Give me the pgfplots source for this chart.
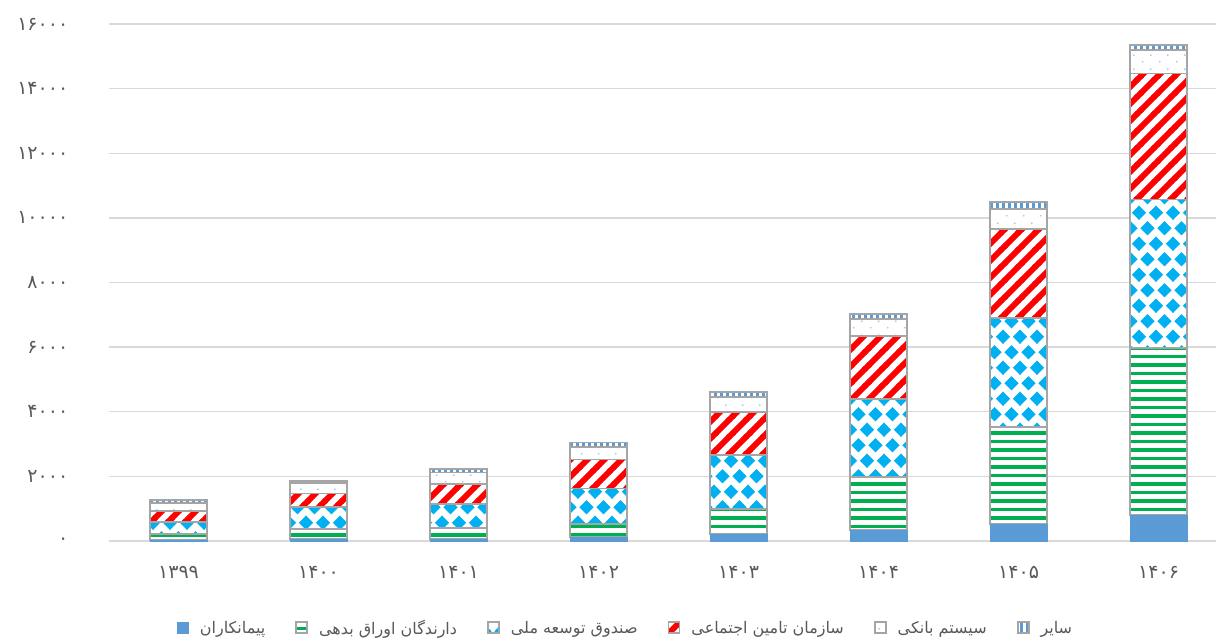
\documentclass[border=0pt]{standalone}
\usepackage{pgfplots}
\pgfplotsset{compat=1.18}
\usepackage{pgfplotstable}
\usepackage{fontspec}
\usetikzlibrary{patterns}
\TeXXeTstate=1
\setmainfont{DejaVu Sans}
\newfontfamily\arabicfont[Script=Arabic]{DejaVu Sans}

\definecolor{cBlue}{HTML}{5B9BD5}
\definecolor{cGreen}{HTML}{00B050}
\definecolor{cCyan}{HTML}{00B0F0}
\definecolor{cRed}{HTML}{FF0000}
\definecolor{cDot}{HTML}{9DC3E6}
\definecolor{cBorder}{HTML}{A5A5A5}
\definecolor{cGrid}{HTML}{D9D9D9}
\definecolor{cText}{HTML}{595959}

% tiles overlap slightly (bbox larger than step) to avoid seams
\pgfdeclarepatternformonly{hstripes}{\pgfpoint{0pt}{0pt}}{\pgfpoint{256pt}{8.5pt}}{\pgfpoint{255pt}{8.5pt}}{%
  \pgfpathrectangle{\pgfpoint{0pt}{0pt}}{\pgfpoint{256pt}{3.8pt}}\pgfusepath{fill}}

\pgfdeclarepatternformonly{diamonds}{\pgfpoint{-0.5pt}{-0.5pt}}{\pgfpoint{17.5pt}{31.5pt}}{\pgfpoint{17pt}{31pt}}{%
  \pgfpathmoveto{\pgfpoint{8.5pt}{0.55pt}}\pgfpathlineto{\pgfpoint{15.7pt}{7.75pt}}\pgfpathlineto{\pgfpoint{8.5pt}{14.95pt}}\pgfpathlineto{\pgfpoint{1.3pt}{7.75pt}}\pgfpathclose
  \pgfpathmoveto{\pgfpoint{0pt}{16.05pt}}\pgfpathlineto{\pgfpoint{7.2pt}{23.25pt}}\pgfpathlineto{\pgfpoint{0pt}{30.45pt}}\pgfpathlineto{\pgfpoint{-7.2pt}{23.25pt}}\pgfpathclose
  \pgfpathmoveto{\pgfpoint{17pt}{16.05pt}}\pgfpathlineto{\pgfpoint{24.2pt}{23.25pt}}\pgfpathlineto{\pgfpoint{17pt}{30.45pt}}\pgfpathlineto{\pgfpoint{9.8pt}{23.25pt}}\pgfpathclose
  \pgfusepath{fill}}

\pgfdeclarepatternformonly{thickne}{\pgfpoint{-0.5pt}{-0.5pt}}{\pgfpoint{17.5pt}{17.5pt}}{\pgfpoint{17pt}{17pt}}{%
  \pgfsetlinewidth{6pt}%
  \pgfpathmoveto{\pgfpoint{-3pt}{-3pt}}\pgfpathlineto{\pgfpoint{20pt}{20pt}}%
  \pgfpathmoveto{\pgfpoint{-6pt}{11pt}}\pgfpathlineto{\pgfpoint{6pt}{23pt}}%
  \pgfpathmoveto{\pgfpoint{11pt}{-6pt}}\pgfpathlineto{\pgfpoint{23pt}{6pt}}%
  \pgfusepath{stroke}}

\pgfdeclarepatternformonly{sparsedots}{\pgfpointorigin}{\pgfpoint{17pt}{14pt}}{\pgfpoint{17pt}{14pt}}{%
  \pgfpathcircle{\pgfpoint{4pt}{3.5pt}}{1pt}\pgfpathcircle{\pgfpoint{12.5pt}{10.5pt}}{1pt}\pgfusepath{fill}}

\pgfdeclarepatternformonly{vstripes}{\pgfpointorigin}{\pgfpoint{6pt}{301pt}}{\pgfpoint{6pt}{300pt}}{%
  \pgfpathrectangle{\pgfpointorigin}{\pgfpoint{3.2pt}{301pt}}\pgfusepath{fill}}

\pgfplotstableread{
x  cont  bond  fund  social  bank  other
0  20    200   370   330     250   100
1  50    310   680   430     330   60
2  60    330   750   620     360   120
3  115   410   1100  900     390   135
4  220   770   1670  1340    450   155
5  340   1650  2400  1960    530   150
6  520   3020  3360  2760    620   220
7  800   5170  4600  3900    730   150
}\datatable

\begin{document}
\begin{tikzpicture}[x=1pt,y=1pt]
\path[use as bounding box] (0,0) rectangle (1216,639);
\begin{axis}[
  at={(108.5pt,98pt)}, anchor=south west,
  scale only axis, width=1107.5pt, height=517pt,
  ybar stacked, bar width=57pt,
  xmin=-0.5, xmax=7.41, ymin=0, ymax=16000,
  clip=false,
  scaled y ticks=false,
  axis line style={draw=none},
  tick style={draw=none},
  ymajorgrids, major grid style={color=cGrid, line width=1.3pt},
  xtick={0,...,7},
  xticklabels={۱۳۹۹,۱۴۰۰,۱۴۰۱,۱۴۰۲,۱۴۰۳,۱۴۰۴,۱۴۰۵,۱۴۰۶},
  ytick={0,2000,...,16000},
  yticklabels={۰,۲۰۰۰,۴۰۰۰,۶۰۰۰,۸۰۰۰,۱۰۰۰۰,۱۲۰۰۰,۱۴۰۰۰,۱۶۰۰۰},
  ticklabel style={font=\arabicfont\fontsize{19}{21}\selectfont, text=cText},
  xticklabel style={anchor=center, yshift=-31pt},
  yticklabel style={anchor=east, inner sep=0pt, xshift=-40pt},
  legend style={at={(0.467,-0.168)}, anchor=center, draw=none,
    font=\arabicfont\fontsize{16}{18}\selectfont, text=cText,
    /tikz/every odd column/.append style={column sep=9pt},
    /tikz/every even column/.append style={column sep=28pt}},
  legend columns=6,
  legend image code/.code={\draw[#1] (0pt,-5.5pt) rectangle (11pt,5.5pt);},
]
\addplot[fill=cBlue, draw=cBlue, line width=0.5pt] table[x=x,y=cont]{\datatable};
\addlegendentry{\beginR پیمانکاران\endR}
\addplot[preaction={fill=white}, pattern=hstripes, pattern color=cGreen, draw=cBorder, line width=1.8pt] table[x=x,y=bond]{\datatable};
\addlegendentry{\beginR دارندگان اوراق بدهی\endR}
\addplot[preaction={fill=white}, pattern=diamonds, pattern color=cCyan, draw=cBorder, line width=1.8pt] table[x=x,y=fund]{\datatable};
\addlegendentry{\beginR صندوق توسعه ملی\endR}
\addplot[preaction={fill=white}, pattern=thickne, pattern color=cRed, draw=cBorder, line width=1.8pt] table[x=x,y=social]{\datatable};
\addlegendentry{\beginR سازمان تامین اجتماعی\endR}
\addplot[preaction={fill=white}, pattern=sparsedots, pattern color=cDot, draw=cBorder, line width=1.8pt] table[x=x,y=bank]{\datatable};
\addlegendentry{\beginR سیستم بانکی\endR}
\addplot[preaction={fill=white}, pattern=vstripes, pattern color=cBlue, draw=cBorder, line width=1.8pt] table[x=x,y=other]{\datatable};
\addlegendentry{\beginR سایر\endR}
\end{axis}
\end{tikzpicture}
\end{document}
